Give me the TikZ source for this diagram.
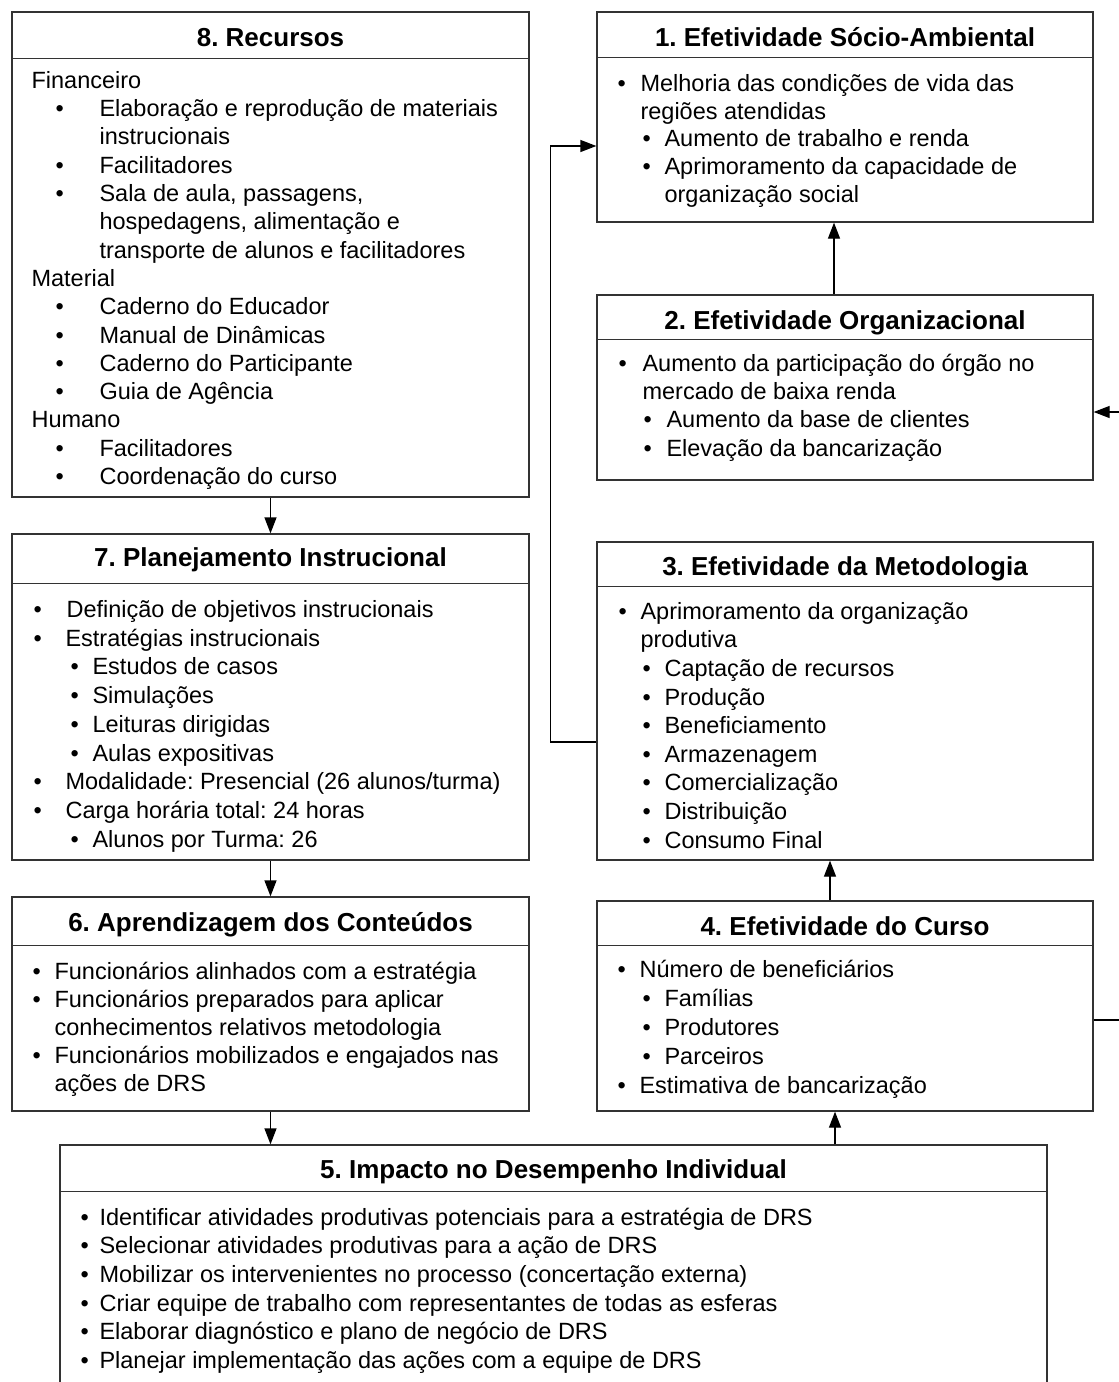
\documentclass[tikz,border=0pt]{standalone}
\usepackage{fontspec}
\setmainfont{Liberation Sans}
\usetikzlibrary{arrows.meta,fit,calc}
\frenchspacing

% one list line: bullet at offset #1, text at offset #2 (pt from the box edge)
\newcommand\bul[3]{\hspace*{#1pt}\makebox[\dimexpr#2pt-#1pt\relax][l]{\textbullet}#3\par}
% continuation / plain line starting at offset #1
\newcommand\pln[2]{\hspace*{#1pt}#2\par}
% body of a box, line pitch #1
\newcommand\bodyblock[2]{\parbox[t]{950pt}{\fontsize{23.5pt}{#1pt}\selectfont\raggedright\setlength\parindent{0pt}#2}}

\tikzset{
  frame/.style={draw=black!80, line width=1.3pt, inner sep=0pt},
  ttl/.style={anchor=base, inner sep=0pt, font=\fontsize{26pt}{30pt}\selectfont\bfseries},
  bodytxt/.style={anchor=base west, inner sep=0pt},
  arr/.style={draw=black, line width=1.3pt, -{Triangle[length=16pt,width=12pt]}}
}

\begin{document}
\begin{tikzpicture}[x=1pt,y=-1pt]
\useasboundingbox (0,0) rectangle (1119,1382);
\fill[white] (0,0) rectangle (1119,1382);

% ---- 8. Recursos
\node[frame, fit={(12,12)(529,497)}] (b8) {};
\draw[frame] ([yshift=-47pt]b8.north west) -- ([yshift=-47pt]b8.north east);
\node[ttl] (t8) at ([yshift=-35pt]b8.north) {8. Recursos};
\node[bodytxt] (c8) at ([yshift=-77pt]b8.north west) {\bodyblock{28.3}{
\pln{20}{Financeiro}
\bul{44}{88}{Elaboração e reprodução de materiais}
\pln{88}{instrucionais}
\bul{44}{88}{Facilitadores}
\bul{44}{88}{Sala de aula, passagens,}
\pln{88}{hospedagens, alimentação e}
\pln{88}{transporte de alunos e facilitadores}
\pln{20}{Material}
\bul{44}{88}{Caderno do Educador}
\bul{44}{88}{Manual de Dinâmicas}
\bul{44}{88}{Caderno do Participante}
\bul{44}{88}{Guia de Agência}
\pln{20}{Humano}
\bul{44}{88}{Facilitadores}
\bul{44}{88}{Coordenação do curso}}};

% ---- 7. Planejamento Instrucional
\node[frame, fit={(12,534)(529,860)}] (b7) {};
\draw[frame] ([yshift=-50pt]b7.north west) -- ([yshift=-50pt]b7.north east);
\node[ttl] (t7) at ([yshift=-33pt]b7.north) {7. Planejamento Instrucional};
\node[bodytxt] (c7) at ([yshift=-84pt]b7.north west) {\bodyblock{28.75}{
\bul{22}{55}{Definição de objetivos instrucionais}
\bul{22}{54}{Estratégias instrucionais}
\bul{59}{81}{Estudos de casos}
\bul{59}{81}{Simulações}
\bul{59}{81}{Leituras dirigidas}
\bul{59}{81}{Aulas expositivas}
\bul{22}{54}{Modalidade: Presencial (26 alunos/turma)}
\bul{22}{54}{Carga horária total: 24 horas}
\bul{59}{81}{Alunos por Turma: 26}}};

% ---- 6. Aprendizagem dos Conteúdos
\node[frame, fit={(12,897)(529,1111)}] (b6) {};
\draw[frame] ([yshift=-49pt]b6.north west) -- ([yshift=-49pt]b6.north east);
\node[ttl] (t6) at ([yshift=-35pt]b6.north) {6. Aprendizagem dos Conteúdos};
\node[bodytxt] (c6) at ([yshift=-83pt]b6.north west) {\bodyblock{28}{
\bul{21}{43}{Funcionários alinhados com a estratégia}
\bul{21}{43}{Funcionários preparados para aplicar}
\pln{43}{conhecimentos relativos metodologia}
\bul{21}{43}{Funcionários mobilizados e engajados nas}
\pln{43}{ações de DRS}}};

% ---- 5. Impacto no Desempenho Individual (runs past the lower edge)
\node[frame, fit={(60,1145)(1047,1420)}] (b5) {};
\draw[frame] ([yshift=-47pt]b5.north west) -- ([yshift=-47pt]b5.north east);
\node[ttl] (t5) at ([yshift=-34pt]b5.north) {5. Impacto no Desempenho Individual};
\node[bodytxt] (c5) at ([yshift=-81pt]b5.north west) {\bodyblock{28.6}{
\bul{21}{40}{Identificar atividades produtivas potenciais para a estratégia de DRS}
\bul{21}{40}{Selecionar atividades produtivas para a ação de DRS}
\bul{21}{40}{Mobilizar os intervenientes no processo (concertação externa)}
\bul{21}{40}{Criar equipe de trabalho com representantes de todas as esferas}
\bul{21}{40}{Elaborar diagnóstico e plano de negócio de DRS}
\bul{21}{40}{Planejar implementação das ações com a equipe de DRS}}};

% ---- 4. Efetividade do Curso
\node[frame, fit={(597,901)(1093,1111)}] (b4) {};
\draw[frame] ([yshift=-45pt]b4.north west) -- ([yshift=-45pt]b4.north east);
\node[ttl] (t4) at ([yshift=-35pt]b4.north) {4. Efetividade do Curso};
\node[bodytxt] (c4) at ([yshift=-77pt]b4.north west) {\bodyblock{29}{
\bul{21}{43}{Número de beneficiários}
\bul{46}{68}{Famílias}
\bul{46}{68}{Produtores}
\bul{46}{68}{Parceiros}
\bul{21}{43}{Estimativa de bancarização}}};

% ---- 3. Efetividade da Metodologia
\node[frame, fit={(597,542)(1093,860)}] (b3) {};
\draw[frame] ([yshift=-45pt]b3.north west) -- ([yshift=-45pt]b3.north east);
\node[ttl] (t3) at ([yshift=-34pt]b3.north) {3. Efetividade da Metodologia};
\node[bodytxt] (c3) at ([yshift=-78pt]b3.north west) {\bodyblock{28.6}{
\bul{22}{44}{Aprimoramento da organização}
\pln{44}{produtiva}
\bul{46}{68}{Captação de recursos}
\bul{46}{68}{Produção}
\bul{46}{68}{Beneficiamento}
\bul{46}{68}{Armazenagem}
\bul{46}{68}{Comercialização}
\bul{46}{68}{Distribuição}
\bul{46}{68}{Consumo Final}}};

% ---- 2. Efetividade Organizacional
\node[frame, fit={(597,295)(1093,480)}] (b2) {};
\draw[frame] ([yshift=-45pt]b2.north west) -- ([yshift=-45pt]b2.north east);
\node[ttl] (t2) at ([yshift=-35pt]b2.north) {2. Efetividade Organizacional};
\node[bodytxt] (c2) at ([yshift=-77pt]b2.north west) {\bodyblock{28.3}{
\bul{22}{46}{Aumento da participação do órgão no}
\pln{46}{mercado de baixa renda}
\bul{47}{70}{Aumento da base de clientes}
\bul{47}{70}{Elevação da bancarização}}};

% ---- 1. Efetividade Sócio-Ambiental
\node[frame, fit={(597,12)(1093,222)}] (b1) {};
\draw[frame] ([yshift=-46pt]b1.north west) -- ([yshift=-46pt]b1.north east);
\node[ttl] (t1) at ([yshift=-35pt]b1.north) {1. Efetividade Sócio-Ambiental};
\node[bodytxt] (c1) at ([yshift=-80pt]b1.north west) {\bodyblock{27.75}{
\bul{21}{44}{Melhoria das condições de vida das}
\pln{44}{regiões atendidas}
\bul{46}{68}{Aumento de trabalho e renda}
\bul{46}{68}{Aprimoramento da capacidade de}
\pln{68}{organização social}}};

% ---- connectors
\draw[arr] (b8.south) -- (b7.north);
\draw[arr] (b7.south) -- (b6.north);
\draw[arr] (b6.south) -- (b6.south |- b5.north);
\draw[arr] ([xshift=-10pt]b4.south |- b5.north) -- ([xshift=-10pt]b4.south);
\draw[arr] ([xshift=-15pt]b4.north) -- ([xshift=-15pt]b3.south);
\draw[arr] ([xshift=-11pt]b2.north) -- ([xshift=-11pt]b1.south);
\draw[arr] ([yshift=-41pt]b3.west) -- ++(-46,0) |- ([yshift=-29pt]b1.west);
\draw[arr] ([yshift=-14pt]b4.east) -- ++(40,0) |- ([yshift=-24.5pt]b2.east);
\end{tikzpicture}
\end{document}
